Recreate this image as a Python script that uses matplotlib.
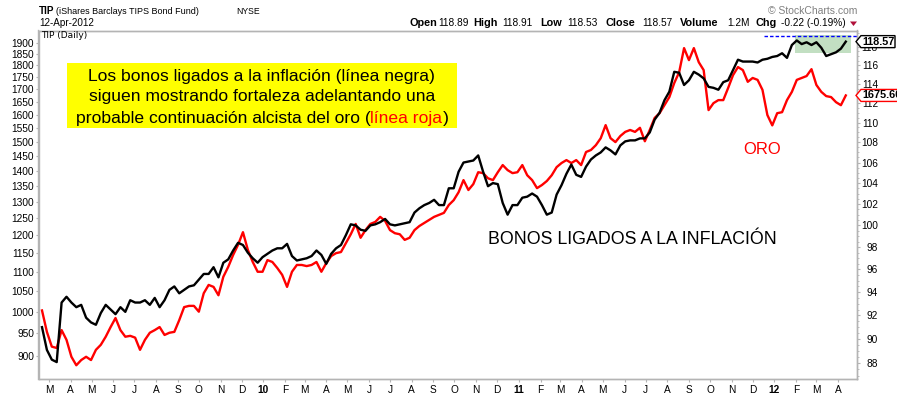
##TIP (TIPS bond fund) vs gold, weekly readings taken off a StockCharts picture
import matplotlib
matplotlib.use('Agg')
import matplotlib.pyplot as plt
import matplotlib.ticker as ticker
import matplotlib.dates as mdates
from matplotlib.patches import Polygon, Rectangle
from matplotlib.text import Annotation
from matplotlib.transforms import IdentityTransform
import numpy as np
import pandas as pd

plt.rcParams['font.family'] = ['Liberation Sans', 'DejaVu Sans']

W, H = 921, 399

##one reading per Thursday, 19-Feb-2009 .. 12-Apr-2012
weeks = pd.date_range('2009-02-19', '2012-04-12', freq='7D')
tip = [91.0, 89.1, 88.3, 88.1, 93.1, 93.6, 93.1, 92.7, 92.9, 91.8,
       91.4, 91.2, 92.2, 92.9, 92.5, 92.1, 92.7, 92.3, 93.3, 93.1,
       93.1, 93.3, 92.9, 93.5, 92.7, 93.3, 94.2, 94.5, 93.9, 94.2,
       94.5, 94.6, 95.1, 95.6, 95.6, 96.2, 95.3, 96.6, 96.9, 97.7,
       98.4, 98.2, 97.5, 97.0, 96.6, 97.1, 97.4, 97.7, 97.9, 97.9,
       98.3, 97.2, 96.8, 96.9, 97.0, 97.2, 97.7, 97.3, 96.5, 97.4,
       97.9, 98.2, 99.1, 100.1, 100.0, 99.6, 99.5, 100.0, 100.1, 100.3,
       100.6, 100.1, 100.0, 100.1, 100.2, 100.3, 101.2, 101.6, 101.9, 102.1,
       102.4, 101.9, 101.9, 103.5, 103.5, 105.1, 106.0, 106.1, 106.2, 106.7,
       105.1, 103.7, 104.0, 103.9, 102.1, 101.0, 101.9, 101.9, 102.6, 102.7,
       103.0, 102.7, 101.9, 101.0, 101.2, 102.9, 103.8, 104.9, 105.8, 104.8,
       104.6, 105.6, 106.3, 106.7, 107.0, 107.5, 107.2, 106.8, 107.7, 108.1,
       108.2, 108.2, 108.4, 108.4, 109.0, 110.3, 111.0, 112.3, 113.2, 115.3,
       115.2, 113.9, 114.4, 115.3, 115.0, 114.6, 113.7, 113.6, 113.4, 114.2,
       114.4, 115.5, 116.6, 116.4, 116.4, 116.4, 116.3, 116.6, 116.7, 116.9,
       117.0, 117.3, 116.8, 118.2, 118.7, 118.3, 118.5, 118.2, 118.5, 117.9,
       117.0, 117.2, 117.4, 117.8, 118.57]
gold = [1003, 953, 920, 917, 957, 935, 898, 880, 891, 898,
        891, 913, 924, 942, 964, 985, 957, 942, 944, 940,
        913, 935, 951, 957, 964, 946, 951, 953, 980, 1011,
        1014, 1014, 1000, 1045, 1066, 1061, 1040, 1087, 1113, 1145,
        1173, 1209, 1159, 1126, 1100, 1100, 1131, 1126, 1110, 1092,
        1061, 1100, 1118, 1118, 1115, 1118, 1126, 1100, 1123, 1142,
        1150, 1153, 1178, 1203, 1233, 1193, 1215, 1233, 1239, 1254,
        1242, 1215, 1206, 1203, 1187, 1193, 1215, 1227, 1236, 1245,
        1254, 1260, 1266, 1290, 1305, 1330, 1369, 1337, 1356, 1395,
        1392, 1375, 1369, 1395, 1419, 1402, 1392, 1395, 1419, 1385,
        1369, 1343, 1353, 1366, 1385, 1412, 1426, 1436, 1426, 1436,
        1419, 1464, 1471, 1488, 1513, 1561, 1513, 1499, 1521, 1536,
        1543, 1536, 1551, 1502, 1543, 1588, 1606, 1637, 1669, 1726,
        1771, 1876, 1823, 1876, 1814, 1780, 1618, 1645, 1657, 1657,
        1706, 1759, 1793, 1780, 1731, 1747, 1739, 1698, 1599, 1560,
        1606, 1610, 1657, 1690, 1739, 1747, 1755, 1784, 1718, 1690,
        1673, 1669, 1649, 1637, 1675.6]

left_ticks = list(range(900, 1901, 50))
right_ticks = list(range(88, 119, 2))
months = pd.date_range('2009-03-01', '2012-04-01', freq='MS')
month_labels = [d.strftime('%y') if d.month == 1 else 'JFMAMJJASOND'[d.month - 1] for d in months]

##trading range box and resistance line on TIP
box_start, box_end = pd.Timestamp('2012-01-31'), pd.Timestamp('2012-04-19')
box_low, box_high = 117.3, 119.3
res_start, res_level = pd.Timestamp('2011-12-17'), 119.2
x_lo, x_hi = pd.Timestamp('2009-02-14'), pd.Timestamp('2012-04-28')

fig = plt.figure(figsize=(W / 100, H / 100), dpi=100)
ax1 = fig.add_axes([38.5 / W, 20 / H, 818.5 / W, 348.5 / H])
ax2 = ax1.twinx()

ax1.plot(weeks, gold, color='#ff0000', lw=1.7)
ax2.fill_between([box_start, box_end], box_low, box_high, color='#c2dfc2', lw=0, zorder=1)
ax2.hlines(res_level, res_start, x_hi, colors='#0000ff', linestyles=(0, (2.5, 1.5)), lw=1, zorder=2)
ax2.plot(weeks, tip, color='black', lw=1.7, zorder=3)

ax1.set_yscale('log')
ax2.set_yscale('log')
ax1.set_ylim(851.6, 1956.5)
ax2.set_ylim(86.73, 119.8)
ax1.set_xlim(x_lo, x_hi)

ax1.yaxis.set_major_locator(ticker.FixedLocator(left_ticks))
ax1.yaxis.set_major_formatter(ticker.FuncFormatter(lambda v, p: '%d' % round(v)))
ax1.yaxis.set_minor_locator(ticker.NullLocator())
ax2.yaxis.set_major_locator(ticker.FixedLocator(right_ticks))
ax2.yaxis.set_major_formatter(ticker.FuncFormatter(lambda v, p: '%d' % round(v)))
ax2.yaxis.set_minor_locator(ticker.FixedLocator(np.arange(87, 120, 0.5)))
ax2.yaxis.set_minor_formatter(ticker.NullFormatter())

ax1.set_xticks(months)
ax1.set_xticklabels(month_labels)
for lab, d in zip(ax1.get_xticklabels(), months):
    if d.month == 1:
        lab.set_fontweight('bold')
        lab.set_fontsize(8.5)

grey = '#b4b4b4'
for a in (ax1, ax2):
    for s in a.spines.values():
        s.set_color(grey)
        s.set_linewidth(1)
ax1.tick_params(axis='y', length=2.5, width=0.8, color=grey, pad=0.8, labelsize=7.3)
ax1.tick_params(axis='x', length=2, width=0.8, color=grey, pad=2.5, labelsize=7.3)
ax2.tick_params(axis='y', which='major', length=2.5, width=0.8, color=grey, pad=12.6, labelsize=7.3)
ax2.tick_params(axis='y', which='minor', length=1.5, width=0.6, color=grey)
for t in ax2.yaxis.get_major_ticks():
    t.label2.set_horizontalalignment('right')

##everything below is placed in pixels from the top-left corner
px = IdentityTransform()
def put(x, y, s, **kw):
    return fig.text(x, H - y, s, transform=px, **kw)

put(39, 14, 'TIP', fontsize=7.2, fontweight='bold')
put(56, 14, '(iShares Barclays TIPS Bond Fund)', fontsize=6.5)
put(236, 14, 'NYSE', fontsize=6.2)
put(39, 26, '12-Apr-2012', fontsize=7.1)
put(768, 14, '\u00a9 StockCharts.com', fontsize=7.5, color='#808080')
put(41, 37.5, 'TIP (Daily)', fontsize=6.5, family='DejaVu Sans')

hdr = [('Open', 410, '118.89', 438), ('High', 473, '118.91', 502), ('Low', 540, '118.53', 567),
       ('Close', 606, '118.57', 642), ('Volume', 680, '1.2M', 727), ('Chg', 756, '-0.22 (-0.19%)', 781)]
for name, xn, val, xv in hdr:
    put(xn, 26, name, fontsize=7.8, fontweight='bold')
    put(xv, 26, val, fontsize=7.3)
fig.add_artist(Polygon([(850, H - 21.5), (857, H - 21.5), (853.5, H - 26)], closed=True,
                       transform=px, fc='#b0103a', ec='none'))

##price tags on the right edge, at the last value of each series
def tag(ax, value, ec, text, right):
    cy = ax.transData.transform((mdates.date2num(weeks[-1]), value))[1]
    pts = [(856, cy), (861, cy + 6), (right, cy + 6), (right, cy - 6), (861, cy - 6)]
    fig.add_artist(Polygon(pts, closed=True, transform=px, fc='white', ec=ec, lw=1, zorder=5))
    fig.text(862, cy, text, transform=px, fontsize=7.8, fontweight='bold', va='center', zorder=6)

tag(ax2, tip[-1], 'black', '%.2f' % tip[-1], 895)
tag(ax1, gold[-1], '#ff0000', '%.2f' % gold[-1], 905)
##the source picture is cut off just right of the tags
fig.add_artist(Rectangle((897, 0), W - 897, H - 60, transform=px, fc='white', ec='none', zorder=7))

##yellow comment box
fs = 12.6
fig.add_artist(Rectangle((67, H - 128), 390, 65, transform=px, fc='#ffff00', ec='none', zorder=3))
put(262, 76, 'Los bonos ligados a la inflación (línea negra)', fontsize=fs, ha='center', va='center', zorder=4)
put(262, 97, 'siguen mostrando fortaleza adelantando una', fontsize=fs, ha='center', va='center', zorder=4)
t1 = put(73, 118, 'probable continuación alcista del oro (', fontsize=fs, va='center', zorder=4)
t2 = fig.text(0, 0, 'línea roja', fontsize=fs)
t3 = fig.text(0, 0, ')', fontsize=fs)
r = fig.canvas.get_renderer()
widths = [t.get_window_extent(r).width for t in (t1, t2, t3)]
t1.set_position((262 - sum(widths) / 2, H - 118))
t2.remove()
t3.remove()
a2 = fig.add_artist(Annotation('línea roja', xy=(1, 0), xycoords=t1, va='bottom',
                               fontsize=fs, color='#ff0000', zorder=4))
fig.add_artist(Annotation(')', xy=(1, 0), xycoords=a2, va='bottom', fontsize=fs, zorder=4))

put(743, 150, 'ORO', fontsize=12, color='#ff0000', va='center')
put(488, 240, 'BONOS LIGADOS A LA INFLACIÓN', fontsize=12.8, va='center')

fig.savefig('out.png', dpi=100)
